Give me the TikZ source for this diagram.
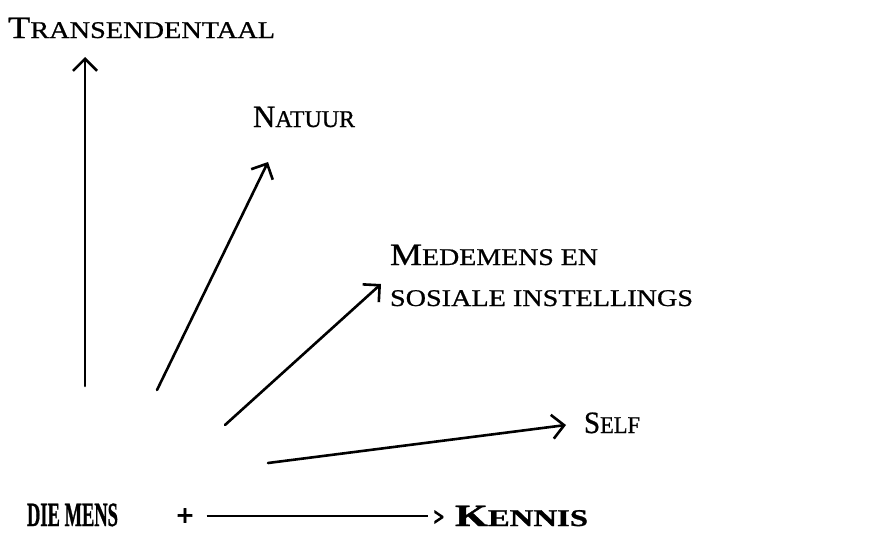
\documentclass[tikz,border=0pt]{standalone}
\usepackage{fontspec}
\usepackage{graphicx}
\setmainfont{Liberation Serif}
% slightly heavier faces for the labels
\newfontfamily\lblfont{Liberation Serif}[FakeBold=0.7]
\newfontfamily\heavyfont{Liberation Serif Bold}[FakeBold=1.0]
\newfontfamily\signfont{Liberation Serif Bold}[FakeBold=2.0]
\newfontfamily\chevfont{Liberation Serif Bold}[FakeBold=5.0]
\usetikzlibrary{arrows.meta}

% small-caps look: large initial capital, smaller capitals after it
\newcommand{\initcap}[1]{{\fontsize{31}{31}\selectfont #1}}
\newcommand{\restcap}[1]{{\fontsize{24}{24}\selectfont #1}}
% set a label at a fixed width, scaling horizontally only
\newcommand{\fitw}[2]{\resizebox{#1}{\height}{#2}}

\tikzset{
  lbl/.style={anchor=base west, inner sep=0pt, outer sep=0pt, font=\lblfont},
  heavy/.style={anchor=base west, inner sep=0pt, outer sep=0pt, font=\heavyfont},
  sign/.style={inner sep=0pt, outer sep=0pt, font=\signfont},
  ray/.style={line width=2.6pt, line cap=round,
    -{Straight Barb[length=12pt,width=24pt,line width=2.6pt]}},
  plain/.style={line width=2.4pt}
}

\begin{document}
\begin{tikzpicture}[x=1pt,y=-1pt]
  \useasboundingbox (0,0) rectangle (882,546);

  % labels
  \node[lbl] (trans) at (8,38)  {\fitw{267pt}{\initcap{T}\restcap{RANSENDENTAAL}}};
  \node[lbl] (natuur) at (253,127) {\fitw{102pt}{\initcap{N}\restcap{ATUUR}}};
  \node[lbl] (mede) at (390,265) {\fitw{208pt}{\initcap{M}\restcap{EDEMENS EN}}};
  \node[lbl] (sosiaal) at (390,306) {\fitw{303pt}{\restcap{SOSIALE INSTELLINGS}}};
  \node[lbl] (self) at (584,433) {\fitw{56pt}{\initcap{S}\restcap{ELF}}};
  \node[heavy] (mens) at (27,526) {\fitw{91pt}{\fontsize{34}{34}\selectfont DIE MENS}};
  \node[heavy] (kennis) at (455,526) {\fitw{133pt}{\initcap{K}\restcap{ENNIS}}};
  \node[sign] (plus) at (185,517) {\fontsize{30}{30}\selectfont +};
  \node[sign, font=\chevfont] (gt) at (439,518) {\resizebox{10pt}{14pt}{>}};

  % ends of the four rays
  \coordinate (t1) at (85,386);  \coordinate (h1) at (85,57);
  \coordinate (t2) at (157,390); \coordinate (h2) at (268,162);
  \coordinate (t3) at (225,425); \coordinate (h3) at (381,284);
  \coordinate (t4) at (268,463); \coordinate (h4) at (566,425);

  \draw[ray] (t1) -- (h1);
  \draw[ray] (t2) -- (h2);
  \draw[ray] (t3) -- (h3);
  \draw[ray] (t4) -- (h4);

  % the line towards knowledge
  \draw[plain] ([xshift=13pt]plus.east |- 0,516) -- ([xshift=-6pt]gt.west |- 0,516);
\end{tikzpicture}
\end{document}
